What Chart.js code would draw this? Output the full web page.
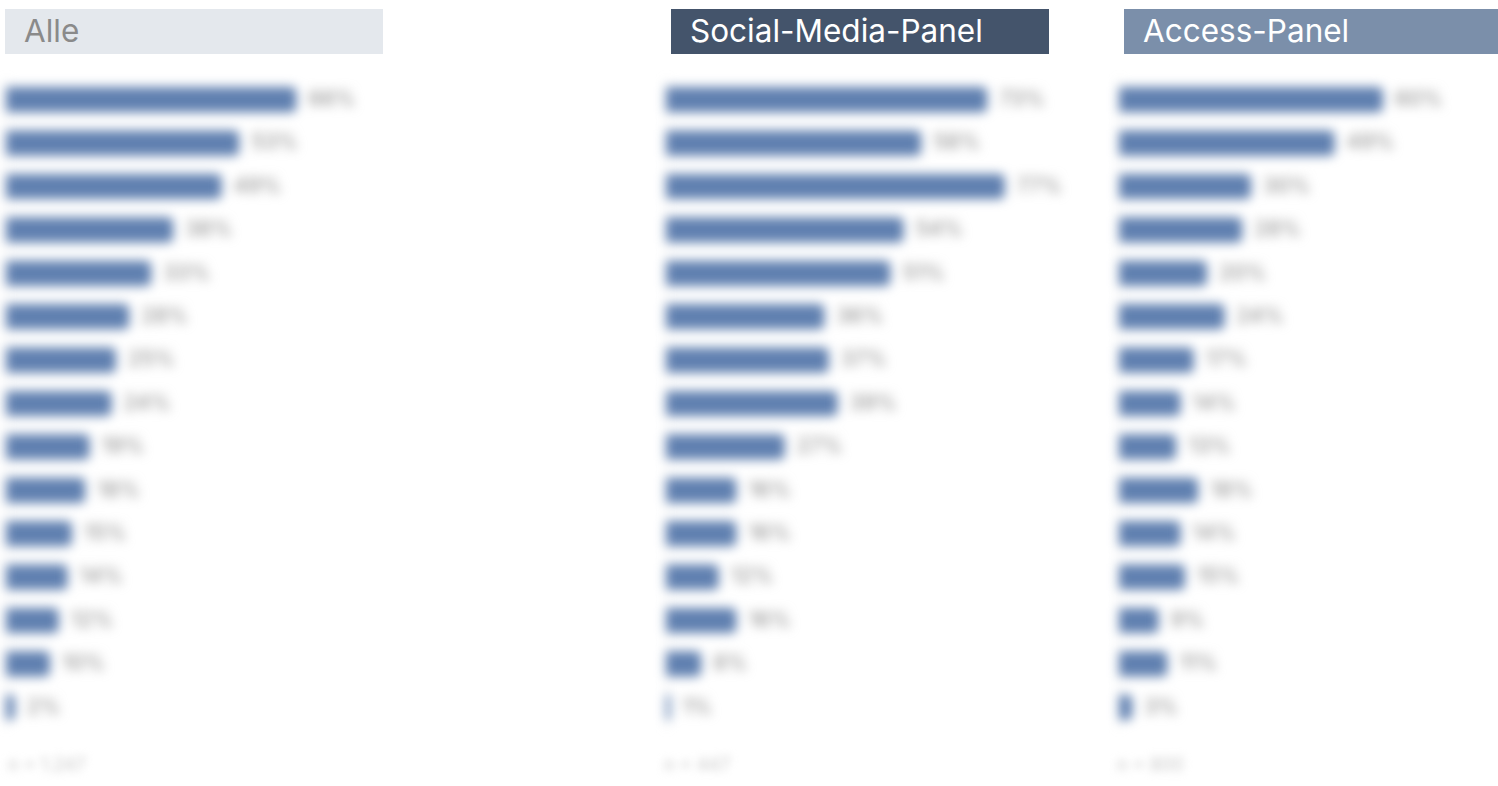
<!DOCTYPE html>
<html lang="de">
<head>
<meta charset="utf-8">
<title>Panelvergleich</title>
<script src="https://cdn.jsdelivr.net/npm/chart.js@4/dist/chart.umd.min.js"></script>
<style>
  html, body { margin: 0; padding: 0; background: #fff; width: 1498px; height: 786px; overflow: hidden; }
  body { position: relative; font-family: Inter, "Noto Sans", sans-serif; }
  .head { position: absolute; top: 9px; height: 45px; line-height: 44px; font-size: 31.5px; padding-left: 19px; box-sizing: border-box; }
  .chart { position: absolute; top: 78px; height: 651px; filter: blur(5.5px); }
  .note { position: absolute; top: 754px; font-size: 18px; color: #c8c8c8; filter: blur(4.5px); }
</style>
</head>
<body>
<div class="head" style="left:5px;width:378px;background:#e4e8ed;color:#8a8a8a;">Alle</div>
<div class="head" style="left:671px;width:378px;background:#44546b;color:#fff;">Social-Media-Panel</div>
<div class="head" style="left:1124px;width:374px;background:#7b8faa;color:#fff;">Access-Panel</div>

<div class="chart" style="left:6px;width:440px;"><canvas id="c0"></canvas></div>
<div class="chart" style="left:666px;width:440px;"><canvas id="c1"></canvas></div>
<div class="chart" style="left:1119px;width:379px;"><canvas id="c2"></canvas></div>

<div class="note" style="left:8px;">n = 1.247</div>
<div class="note" style="left:664px;">n = 447</div>
<div class="note" style="left:1117px;">n = 800</div>

<script>
// Items (rows), in display order
const categories = ['1','2','3','4','5','6','7','8','9','10','11','12','13','14','15'];

// Shares in percent per group
const alle   = [66, 53, 49, 38, 33, 28, 25, 24, 19, 18, 15, 14, 12, 10, 2];
const social = [73, 58, 77, 54, 51, 36, 37, 39, 27, 16, 16, 12, 16, 8, 1];
const access = [60, 49, 30, 28, 20, 24, 17, 14, 13, 18, 14, 15, 9, 11, 3];

const groups = [
  { id: 'c0', values: alle,   xMax: 100 },
  { id: 'c1', values: social, xMax: 100 },
  { id: 'c2', values: access, xMax: 100 * 379 / 440 }
];

// Writes "NN%" just right of each bar
const valueLabels = {
  id: 'valueLabels',
  afterDatasetsDraw(chart) {
    const ctx = chart.ctx;
    const meta = chart.getDatasetMeta(0);
    const data = chart.data.datasets[0].data;
    ctx.save();
    ctx.font = '500 21px Inter, "Noto Sans", sans-serif';
    ctx.fillStyle = '#959595';
    ctx.textBaseline = 'middle';
    ctx.textAlign = 'left';
    meta.data.forEach((bar, i) => {
      ctx.fillText(data[i] + '%', bar.x + 12, bar.y);
    });
    ctx.restore();
  }
};

groups.forEach(g => {
  new Chart(document.getElementById(g.id), {
    type: 'bar',
    data: {
      labels: categories,
      datasets: [{
        data: g.values,
        backgroundColor: '#6080b0',
        borderRadius: 5,
        borderSkipped: 'start',
        categoryPercentage: 1,
        barPercentage: 0.58
      }]
    },
    options: {
      indexAxis: 'y',
      responsive: true,
      maintainAspectRatio: false,
      animation: false,
      layout: { padding: 0 },
      plugins: { legend: { display: false }, tooltip: { enabled: false } },
      scales: {
        x: { display: false, min: 0, max: g.xMax },
        y: {
          ticks: { display: false },
          grid: { display: false, drawTicks: false },
          border: { display: true, color: '#bdbdbd', width: 1.5 }
        }
      }
    },
    plugins: [valueLabels]
  });
});
</script>
</body>
</html>
